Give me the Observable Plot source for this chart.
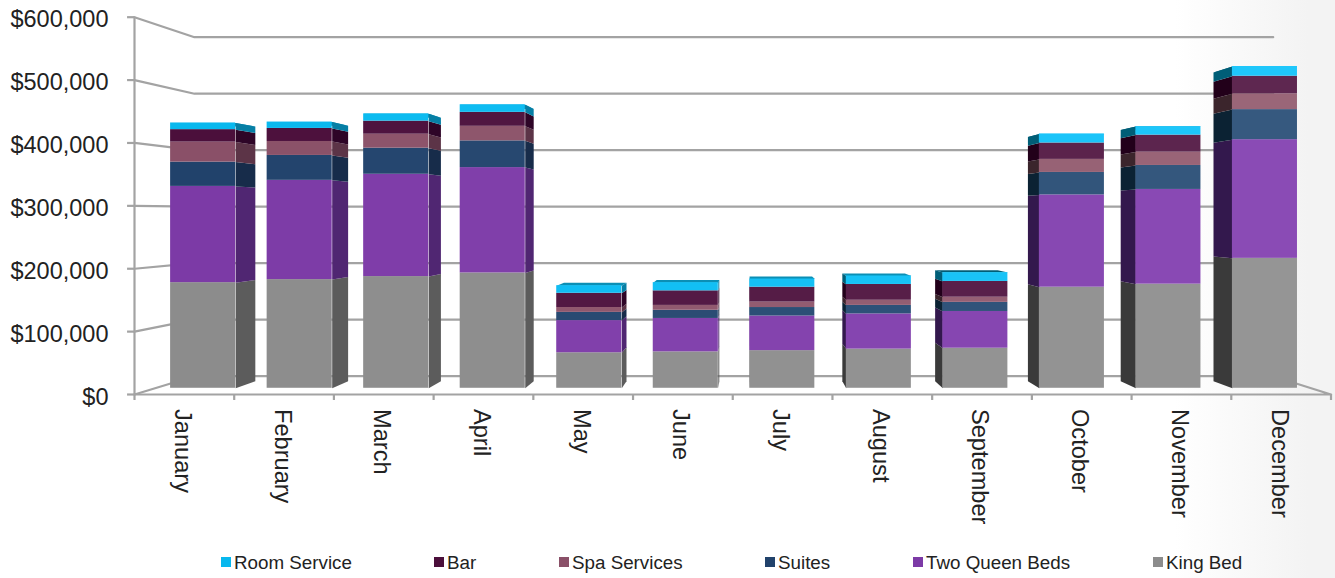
<!DOCTYPE html>
<html>
<head>
<meta charset="utf-8">
<script src="https://cdn.jsdelivr.net/npm/d3@7"></script>
<script src="https://cdn.jsdelivr.net/npm/@observablehq/plot@0.6"></script>
<style>
  html, body { margin: 0; padding: 0; overflow: hidden; }
  body {
    width: 1335px; height: 578px;
    background: linear-gradient(to right, #fff 88%, #f3f3f3 98%);
    font-family: "Liberation Sans", Arial, sans-serif;
  }
  #legend { position: relative; height: 38px; font-size: 18.8px; color: #222; }
  #legend div { position: absolute; top: 12px; line-height: 22px; white-space: nowrap; }
  #legend i { position: absolute; left: -13px; top: 5px; width: 10px; height: 10px; }
</style>
</head>
<body>
<div id="chart"></div>
<div id="legend"></div>
<script>
const months = ["January","February","March","April","May","June","July","August","September","October","November","December"];

// Monthly revenue by source, in dollars
const kingBed      = [174000,179000,184000,190000,58500,60000,62000,64500,66000,166500,171500,214000];
const twoQueenBeds = [158500,163500,168500,173500,53000,55000,57000,58000,60500,152000,156000,195500];
const suites       = [40000,41000,43000,44000,13500,13500,14000,14000,15000,37000,39500,49500];
const spaServices  = [33000,23000,23000,24000,8000,8000,9000,8500,8500,21500,22000,26000];
const barSales     = [20500,21500,21500,23000,23500,24000,24500,26000,26000,27000,28000,29000];
const roomService  = [11000,10500,12000,12500,12500,13500,13500,14000,14500,15000,14000,16000];

const seriesNames = ["King Bed","Two Queen Beds","Suites","Spa Services","Bar","Room Service"];
const seriesValues = [kingBed, twoQueenBeds, suites, spaServices, barSales, roomService];

// Face shades per series: first month, last month, right-lit side, left-lit side
const frontStart = ["#8c8c8c","#7c3aa6","#21426b","#8a5068","#4b0f3b","#08b8ee"];
const frontEnd   = ["#959595","#8a4bb5","#36597f","#9a6678","#5e2750","#1fc7fb"];
const sideRight  = ["#5c5c5c","#502672","#172c4a","#5c3447","#2e0527","#067fa5"];
const sideLeft   = ["#3a3a3a","#33184d","#0b2233","#3b252c","#22001a","#005e77"];
const lidLight   = "#0b8fb5";

const legendOrder = [5,4,3,2,1,0];
const legendLeft  = [234,447,572,778,926,1166];

const yTicks = [0,100000,200000,300000,400000,500000,600000];

// Oblique view of the 3D box: depth 0 is the axis plane, depth 1 the back wall.
// Positions stay in data units so the x and y scales do all of the pixel mapping.
const wallInsetLeft = 0.0501, wallInsetRight = 0.0483;
const floorRise = 29100, depthShrink = 0.1015;
const px = (u, depth) => wallInsetLeft * depth + u * (1 - (wallInsetLeft + wallInsetRight) * depth);
const py = (v, depth) => v * (1 - depthShrink * depth) + floorRise * depth;

const barFront = 0.34, barBack = 0.72, barInset = 0.163, barStretch = 1.0016;

const fronts = [], polys = [];
months.forEach((month, m) => {
  const u1 = barStretch * (m + barInset) / 12, u2 = barStretch * (m + 1 - barInset) / 12;
  const edge = (u1 + u2) / 2 < 0.5 ? u2 : u1;
  const t = m / 11;
  let base = 0;
  seriesValues.forEach((values, s) => {
    const top = base + values[m];
    fronts.push({
      x1: px(u1, barFront), x2: px(u2, barFront),
      y1: py(base, barFront), y2: py(top, barFront),
      color: d3.interpolateRgb(frontStart[s], frontEnd[s])(t)
    });
    const sideColor = (edge === u2 ? sideRight : sideLeft)[s];
    const side = `side-${m}-${s}`;
    [[barFront, base], [barBack, base], [barBack, top], [barFront, top]].forEach(([d, v]) =>
      polys.push({ id: side, layer: 1, x: px(edge, d), y: py(v, d), color: sideColor }));
    if (s === seriesValues.length - 1) {
      const lid = `top-${m}`;
      const lidColor = m < 8 ? lidLight : sideColor;
      [[u1, barFront], [u2, barFront], [u2, barBack], [u1, barBack]].forEach(([u, d]) =>
        polys.push({ id: lid, layer: 0, x: px(u, d), y: py(top, d), color: lidColor }));
    }
    base = top;
  });
});

// Grid lines run along the left wall and then across the back wall
const gridLines = yTicks.flatMap(v => [
  { v, x: px(0, 0), y: py(v, 0) },
  { v, x: px(0, 1), y: py(v, 1) },
  { v, x: px(1, 1), y: py(v, 1) }
]);
const floorEdge = [
  { x: px(1, 1), y: py(0, 1) },
  { x: px(1, 0), y: py(0, 0) },
  { x: px(0, 0), y: py(0, 0) }
];
const axisColor = "#a3a3a3";
const lineWidth = 2.2;

const chart = Plot.plot({
  width: 1335, height: 540,
  marginLeft: 134, marginRight: 4, marginTop: 16, marginBottom: 146,
  style: { background: "transparent", fontFamily: "'Liberation Sans', Arial, sans-serif", color: "#222" },
  x: { type: "linear", domain: [0, 1], range: [134, 1330.5], axis: null },
  y: { type: "linear", domain: [0, 600000], range: [394, 16.7] },
  color: { type: "identity" },
  marks: [
    Plot.line(gridLines, { x: "x", y: "y", z: "v", stroke: axisColor, strokeWidth: lineWidth, curve: "linear" }),
    Plot.line(floorEdge, { x: "x", y: "y", stroke: axisColor, strokeWidth: lineWidth, curve: "linear" }),
    Plot.ruleX([0], { y1: 0, y2: 600000, stroke: axisColor, strokeWidth: lineWidth }),
    Plot.ruleX(d3.range(13).map(i => i / 12), { y1: 0, y2: -9500, stroke: axisColor, strokeWidth: lineWidth }),
    Plot.ruleY(yTicks, { x1: -0.0058, x2: 0, stroke: axisColor, strokeWidth: lineWidth }),
    Plot.axisY({
      ticks: yTicks, tickFormat: d3.format("$,"), label: null,
      tickSize: 0, tickPadding: 26, fontSize: 23.5, dy: 2.5, fill: "#222"
    }),
    Plot.line(polys.filter(d => d.layer === 0), { x: "x", y: "y", z: "id", fill: "color", stroke: "none", curve: "linear" }),
    Plot.line(polys.filter(d => d.layer === 1), { x: "x", y: "y", z: "id", fill: "color", stroke: "none", curve: "linear" }),
    Plot.rect(fronts, { x1: "x1", x2: "x2", y1: "y1", y2: "y2", fill: "color" }),
    Plot.text(months, {
      x: (d, i) => (i + 0.5) / 12, y: () => 0, text: d => d,
      rotate: 90, textAnchor: "start", fontSize: 23.6, dx: -2, dy: 14.5, fill: "#222"
    })
  ]
});
document.getElementById("chart").appendChild(chart);

// Legend row below the plot
const legend = d3.select("#legend");
legendOrder.forEach((s, i) => {
  const item = legend.append("div").style("left", legendLeft[i] + "px").text(seriesNames[s]);
  item.append("i").style("background", i === 0 ? "#08b8ee" : frontStart[s]);
});
</script>
</body>
</html>
